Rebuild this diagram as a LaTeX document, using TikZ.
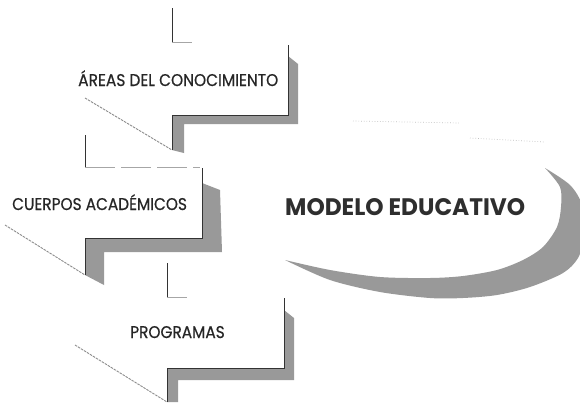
\documentclass[tikz,border=0pt]{standalone}
\usepackage{fontspec}
\setmainfont{Poppins}
\newfontfamily\labfont[FakeBold=0.6]{Poppins}
\begin{document}
\begin{tikzpicture}[x=1pt,y=-1pt,
  edge/.style={line width=0.9pt, draw=black!80},
  faint/.style={line width=0.8pt, draw=black!35},
  shadowfill/.style={fill=black!40},
  diag/.style={draw=black!45, line width=0.9pt, dash pattern=on 2.5pt off 1pt},
  lbl/.style={font=\labfont\fontsize{16}{16}\selectfont, text=black!85, inner sep=0pt, anchor=base west},
  big/.style={text=black!82, inner sep=0pt, anchor=base west}]
\useasboundingbox (0,0) rectangle (580,402);
\fill[white] (0,0) rectangle (580,402);

% ---------- ellipse shadow (crescent) ----------
\fill[shadowfill]
  plot[smooth] coordinates {(285,260) (330,270) (380,277) (430,278) (463,276) (497,270) (523,260) (543,247) (557,227) (561,207) (560,187) (545,168)}
  -- plot[smooth] coordinates {(545,168) (570,185) (582,205) (585,235) (578,258) (563,273) (530,287) (497,295) (463,298) (430,298) (380,292) (330,280) (285,260)}
  -- cycle;
\draw[draw=black!25, line width=0.7pt, dotted] (353,121) -- (460,123);
\draw[draw=black!25, line width=0.7pt, dotted] (470,138) -- (545,142);
\node[big] (modelo) at (285,215) {\resizebox{240pt}{17pt}{\bfseries MODELO EDUCATIVO}};

% ---------- arrow 1 ----------
\coordinate (a1) at (172,8);
\coordinate (a2) at (172,42);
\coordinate (a3) at (192,42);
\coordinate (a4) at (288,45);
\coordinate (a5) at (288,115);
\coordinate (a6) at (172,115);
\coordinate (a7) at (172,150);
\coordinate (a8) at (85,98);
\fill[shadowfill] (288,56) -- (298,64) -- (298,124) -- (184,124) -- (184,153) -- (a7) -- (a6) -- (a5) -- cycle;
\draw[edge] (a1) -- (a2);
\draw[faint] (a2) -- (a3);
\draw[edge] (a4) -- (a5) -- (a6) -- (a7);
\draw[diag] (a8) -- (a7);
\node[lbl] (areas) at (78,86) {\scalebox{0.965}[1.06]{ÁREAS DEL CONOCIMIENTO}};

% ---------- arrow 2 ----------
\coordinate (b1) at (85,135);
\coordinate (b2) at (85,167);
\coordinate (b3) at (200,167);
\coordinate (b4) at (202,168);
\coordinate (b5) at (202,238);
\coordinate (b6) at (85,238);
\coordinate (b7) at (85,275);
\coordinate (b8) at (5,225);
\fill[shadowfill] (202,183) -- (220,190) -- (222,252) -- (104,252) -- (104,285) -- (b7) -- (b6) -- (b5) -- cycle;
\draw[edge] (b1) -- (b2);
\draw[faint, dash pattern=on 30pt off 6pt] (b2) -- (b3);
\draw[edge] (b4) -- (b5) -- (b6) -- (b7);
\draw[diag] (b8) -- (b7);
\node[lbl] (cuerpos) at (12,210) {\scalebox{0.96}[1.06]{CUERPOS ACADÉMICOS}};

% ---------- arrow 3 ----------
\coordinate (c1) at (167,263);
\coordinate (c2) at (167,297);
\coordinate (c3) at (187,297);
\coordinate (c4) at (284,298);
\coordinate (c5) at (284,368);
\coordinate (c6) at (167,368);
\coordinate (c7) at (167,402);
\coordinate (c8) at (75,345);
\fill[shadowfill] (284,310) -- (294,318) -- (294,380) -- (178,380) -- (178,402) -- (c7) -- (c6) -- (c5) -- cycle;
\draw[edge] (c1) -- (c2);
\draw[faint] (c2) -- (c3);
\draw[edge] (c4) -- (c5) -- (c6) -- (c7);
\draw[diag] (c8) -- (c7);
\node[lbl] (programas) at (130,338) {\scalebox{0.96}[1.06]{PROGRAMAS}};
\end{tikzpicture}
\end{document}
